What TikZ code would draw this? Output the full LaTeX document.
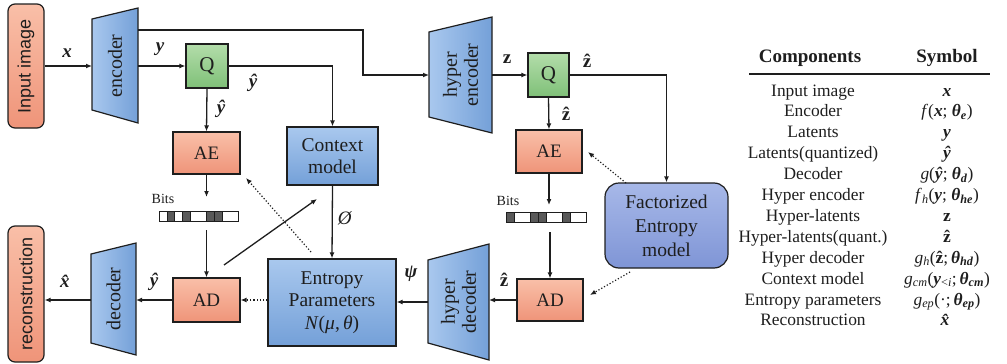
\documentclass[tikz,border=0pt]{standalone}
\usepackage{fontspec}
\setmainfont{Liberation Serif}
\newfontfamily\sansf{Liberation Sans}
\usepackage{amsmath}
\usetikzlibrary{arrows.meta}
\definecolor{salT}{HTML}{F9BFA8}
\definecolor{salB}{HTML}{EF9479}
\definecolor{bluT}{HTML}{A9C8EE}
\definecolor{bluB}{HTML}{74A0D8}
\definecolor{grnT}{HTML}{B3DDAA}
\definecolor{grnB}{HTML}{7FC078}
\definecolor{facT}{HTML}{A7B8E8}
\definecolor{facB}{HTML}{7F95D6}
\definecolor{ink}{HTML}{1E1E1E}
\newcommand\bi[1]{\textbf{\textit{#1}}}
\newcommand\hbi[1]{\textbf{\textit{\^{#1}}}}
\newcommand\fs[1]{\fontsize{#1}{#1}\selectfont}
\tikzset{
  ln/.style={line width=1.3pt, draw=ink},
  arr/.style={ln, -{Latex[length=6pt,width=5pt]}},
  dotarr/.style={line width=1.2pt, draw=ink, dotted, -{Latex[length=6pt,width=5pt]}},
  boxbase/.style={draw=ink, line width=1.2pt, text=ink, align=center, inner sep=0pt},
  salbox/.style={boxbase, top color=salT, bottom color=salB, font=\fs{19}},
  blubox/.style={boxbase, top color=bluT, bottom color=bluB, font=\fontsize{19.5}{22.5}\selectfont},
  grnbox/.style={boxbase, top color=grnT, bottom color=grnB, font=\fs{21}},
  facbox/.style={boxbase, top color=facT, bottom color=facB, rounded corners=14pt, font=\fontsize{19.5}{24}\selectfont},
  trap/.style={draw=ink, line width=1.2pt, left color=bluT, right color=bluB},
  traptext/.style={rotate=90, text=ink, align=center, font=\fontsize{20}{21}\selectfont},
  lbl/.style={text=ink, font=\fs{19}, inner sep=0pt},
  bitslbl/.style={text=ink, font=\fs{14}, inner sep=0pt},
  bitcell/.style={draw=ink, line width=0.8pt},
  hdr/.style={text=ink, font=\bfseries\fs{19}, inner sep=0pt, anchor=base},
  row/.style={text=ink, font=\fs{17.4}, inner sep=0pt, anchor=base}
}
\begin{document}
\begin{tikzpicture}[x=1pt,y=-1pt]
\useasboundingbox (0,0) rectangle (1007,364);

% ---------- end boxes ----------
\node[salbox, rounded corners=7pt, minimum width=36pt, minimum height=124pt] (inp) at (26,66) {};
\node[rotate=90, text=ink, font=\sansf\fs{18}] at (inp) {Input image};
\node[salbox, rounded corners=7pt, minimum width=36pt, minimum height=136pt] (rec) at (26,294) {};
\node[rotate=90, text=ink, font=\sansf\fs{18}] at (rec) {reconstruction};

% ---------- trapezoids ----------
\draw[trap] (92,19) -- (138,8) -- (138,123) -- (92,110) -- cycle;
\node[traptext] (enc) at (115,66) {encoder};
\coordinate (encin) at (92,66);
\coordinate (encout) at (138,66);
\coordinate (enctop) at (138,30);

\draw[trap] (91,254) -- (136,243) -- (136,355) -- (91,343) -- cycle;
\node[traptext] (dec) at (113.5,299) {decoder};
\coordinate (decin) at (136,300);
\coordinate (decout) at (91,300);

\draw[trap] (429,32) -- (492,17) -- (492,133) -- (429,117) -- cycle;
\node[traptext] (henc) at (460.5,75) {hyper\\encoder};
\coordinate (hencin) at (429,75);
\coordinate (hencout) at (492,75);

\draw[trap] (428,260) -- (489,244) -- (489,360) -- (428,343) -- cycle;
\node[traptext] (hdec) at (458.5,302) {hyper\\decoder};
\coordinate (hdecin) at (489,300);
\coordinate (hdecout) at (428,302);

% ---------- boxes ----------
\node[grnbox, minimum width=42pt, minimum height=44pt] (Q1) at (207,66) {Q};
\node[salbox, minimum width=67pt, minimum height=42pt] (AE1) at (206.5,153) {AE};
\node[salbox, minimum width=67pt, minimum height=44pt] (AD1) at (206.5,300) {AD};
\node[blubox, minimum width=91pt, minimum height=58pt] (ctx) at (332.5,156) {Context\\model};
\node[blubox, minimum width=128pt, minimum height=87pt] (ep) at (332,302.5) {Entropy\\Parameters\\\textit{N}(\textit{μ},\,\textit{θ})};
\node[grnbox, minimum width=41pt, minimum height=44pt] (Q2) at (548.5,75) {Q};
\node[salbox, minimum width=66pt, minimum height=43pt] (AE2) at (549,151.5) {AE};
\node[salbox, minimum width=66pt, minimum height=42pt] (AD2) at (550,300) {AD};
\node[facbox, minimum width=123pt, minimum height=85pt] (fac) at (666.5,225.5) {Factorized\\Entropy\\model};

% ---------- bit strips ----------
\node[bitcell, fill=white, minimum width=79pt, minimum height=10pt, inner sep=0pt] (bits1) at (198.5,216) {};
\foreach \i in {1,3,6,7} \draw[bitcell, fill=black!65] (159+\i*7.9,211) rectangle ++(7.9,10);
\node[bitcell, fill=white, minimum width=80pt, minimum height=10pt, inner sep=0pt] (bits2) at (546,217) {};
\foreach \i in {0,3,4,7} \draw[bitcell, fill=black!65] (506+\i*8,212) rectangle ++(8,10);
\node[bitslbl] (b1) at (163,199) {Bits};
\node[bitslbl] (b2) at (508,201) {Bits};

% ---------- connectors ----------
\draw[arr] (inp.east |- encin) -- (encin);
\draw[arr] (encout) -- (Q1.west);
\draw[arr] (enctop) -- (363,30) -- (363,75) -- (hencin);
\draw[arr] (Q1.east) -| (ctx.north);
\draw[arr] (Q1.south) -- (AE1.north);
\coordinate (ae1end) at (206.5,197);
\draw[arr] (AE1.south) -- (ae1end);
\coordinate (ad1start) at (206.5,230);
\draw[arr] (ad1start) -- (AD1.north);
\draw[arr] (AD1.west) -- (decin);
\draw[arr] (decout) -- (rec.east |- decout);
\draw[arr] (ctx.south) -- (ep.north);
\draw[dotarr] (AD1.east -| ep.west) -- (AD1.east);
\coordinate (adfs) at (224,265);
\coordinate (adfe) at (317,199);
\draw[arr] (adfs) -- (adfe);
\coordinate (epd) at (311,252);
\coordinate (ae1r) at (246,178);
\draw[dotarr] (epd) -- (ae1r);

\draw[arr] (hencout) -- (Q2.west);
\draw[arr] (Q2.east) -| (fac.north);
\draw[arr] (Q2.south) -- (AE2.north);
\coordinate (ae2end) at (549,205);
\draw[arr] (AE2.south) -- (ae2end);
\coordinate (ad2start) at (550,232);
\draw[arr] (ad2start) -- (AD2.north);
\coordinate (facA) at (626,183);
\coordinate (ae2r) at (588,152);
\draw[dotarr] (facA) -- (ae2r);
\coordinate (facB) at (630,272);
\coordinate (ad2r) at (590,295);
\draw[dotarr] (facB) -- (ad2r);
\draw[arr] (AD2.west) -- (hdecin);
\draw[arr] (hdecout) -- (ep.east |- hdecout);

% ---------- labels ----------
\node[lbl] (lx) at (67,53) {\bi{x}};
\node[lbl] (ly) at (160,49) {\bi{y}};
\node[lbl] (lyh1) at (253,83) {\hbi{y}};
\node[lbl] (lyh2) at (221,109) {\hbi{y}};
\node[lbl] (lphi) at (345,218) {\textit{Ø}};
\node[lbl] (lyh3) at (154,282) {\hbi{y}};
\node[lbl] (lxh) at (67,281) {\hbi{x}};
\node[lbl] (lz) at (507,59) {\textbf{z}};
\node[lbl] (lzh1) at (587,61) {\textbf{\^{z}}};
\node[lbl] (lzh2) at (566,114) {\textbf{\^{z}}};
\node[lbl] (lzh3) at (504,280) {\textbf{\^{z}}};
\node[lbl] (lpsi) at (411,274) {\bi{ψ}};

% ---------- table ----------
\node[hdr] (hc) at (810,62.5) {Components};
\node[hdr] (hs) at (947,62.5) {Symbol};
\draw[line width=1.2pt, draw=ink] (749,74) -- (990,74);
\foreach \k/\c/\s in {
  0/{Input image}/{\bi{x}},
  1/{Encoder}/{\textit{f}(\bi{x}; \bi{θ}\textsubscript{\bi{e}})},
  2/{Latents}/{\bi{y}},
  3/{Latents(quantized)}/{\hbi{y}},
  4/{Decoder}/{\textit{g}(\hbi{y}; \bi{θ}\textsubscript{\bi{d}})},
  5/{Hyper encoder}/{\textit{f}\textsubscript{\textit{h}}(\bi{y}; \bi{θ}\textsubscript{\bi{he}})},
  6/{Hyper-latents}/{\textbf{z}},
  7/{Hyper-latents(quant.)}/{\textbf{\^{z}}},
  8/{Hyper decoder}/{\textit{g}\textsubscript{\textit{h}}(\textbf{\^{z}};\,\bi{θ}\textsubscript{\bi{hd}})},
  9/{Context model}/{\textit{g}\textsubscript{\textit{cm}}(\bi{y}\textsubscript{\textless\textit{i}};\,\bi{θ}\textsubscript{\bi{cm}})},
  10/{Entropy parameters}/{\textit{g}\textsubscript{\textit{ep}}(·;\,\bi{θ}\textsubscript{\bi{ep}})},
  11/{Reconstruction}/{\hbi{x}}}
{
  \node[row] (c\k) at (813,96+20.9*\k) {\c};
  \node[row] (s\k) at (947,96+20.9*\k) {\s};
}
\end{tikzpicture}
\end{document}
